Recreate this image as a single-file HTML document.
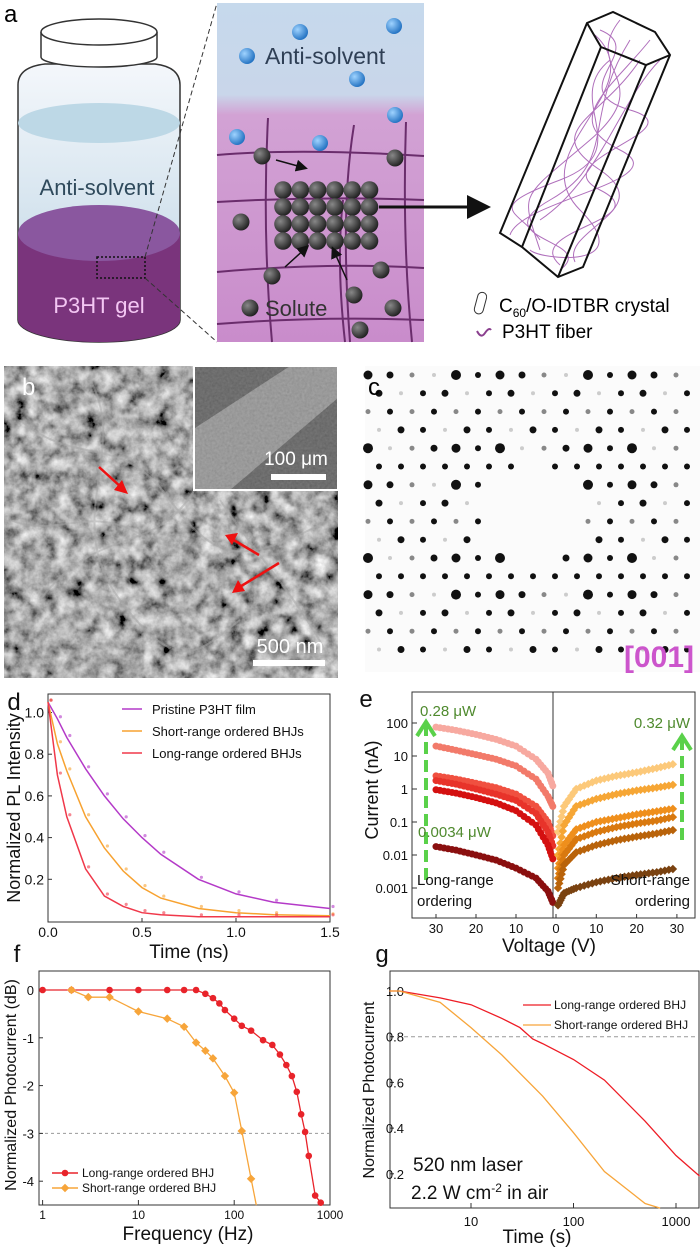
<!DOCTYPE html>
<html><head><meta charset="utf-8"><style>
body{margin:0;background:#fff;width:700px;height:1248px;overflow:hidden;font-family:"Liberation Sans",sans-serif}
svg{position:absolute;left:0;top:0}
</style></head><body>
<svg id="s" width="700" height="1248" viewBox="0 0 700 1248" font-family="Liberation Sans, sans-serif">
<defs>
<linearGradient id="jar" x1="0" y1="0" x2="0" y2="1"><stop offset="0" stop-color="#f4f7fb"/><stop offset="0.4" stop-color="#dde9f2"/><stop offset="1" stop-color="#bcd3e2"/></linearGradient>
<linearGradient id="mid" x1="0" y1="0" x2="0" y2="1"><stop offset="0" stop-color="#c6d9ec"/><stop offset="0.27" stop-color="#c9d6ea"/><stop offset="0.33" stop-color="#d2a2d4"/><stop offset="1" stop-color="#c98ccb"/></linearGradient>
<radialGradient id="ball" cx="0.35" cy="0.35" r="0.7"><stop offset="0" stop-color="#888"/><stop offset="1" stop-color="#1e1e1e"/></radialGradient>
<radialGradient id="bball" cx="0.35" cy="0.35" r="0.7"><stop offset="0" stop-color="#9fd3ff"/><stop offset="1" stop-color="#1f6fc0"/></radialGradient>
<filter id="sem" filterUnits="userSpaceOnUse" x="4" y="366" width="334" height="312"><feTurbulence type="fractalNoise" baseFrequency="0.07" numOctaves="4" seed="7"/><feColorMatrix type="matrix" values="0.9 0.9 0 0 -0.5 0.9 0.9 0 0 -0.5 0.9 0.9 0 0 -0.5 0 0 0 0 1"/></filter>
<filter id="sem2" filterUnits="userSpaceOnUse" x="195" y="366" width="143" height="124"><feTurbulence type="fractalNoise" baseFrequency="0.4" numOctaves="2" seed="5"/><feColorMatrix type="matrix" values="0.3 0.3 0 0 0.2 0.3 0.3 0 0 0.2 0.3 0.3 0 0 0.2 0 0 0 0 1"/></filter>
<marker id="ah" markerWidth="8" markerHeight="8" refX="6" refY="4" orient="auto"><path d="M0,0 L8,4 L0,8z" fill="#111"/></marker>
</defs>

<!-- Panel a -->
<g>
<text x="4" y="22" font-size="24">a</text>
<path d="M18,320 L18,85 Q18,67 45,64 L155,64 Q180,67 180,85 L180,320 A81,22 0 0 1 18,320 Z" fill="url(#jar)" stroke="#333" stroke-width="1.5"/>
<ellipse cx="99" cy="123" rx="81" ry="20" fill="#bdd8e6"/>
<path d="M18,233 L18,320 A81,22 0 0 0 180,320 L180,233 Z" fill="#7a347c"/>
<ellipse cx="99" cy="233" rx="81" ry="28" fill="#8a579f"/>
<path d="M41,32 L41,57 A58,10 0 0 0 157,57 L157,32" fill="#fff" stroke="#333" stroke-width="1.5"/>
<ellipse cx="99" cy="32" rx="58" ry="13" fill="#fff" stroke="#333" stroke-width="1.5"/>
<text x="97" y="195" font-size="22" fill="#2f4a5c" text-anchor="middle">Anti-solvent</text>
<text x="99" y="313" font-size="22" fill="#f3c6f3" text-anchor="middle">P3HT gel</text>
<rect x="97" y="257" width="48" height="21" fill="none" stroke="#111" stroke-width="1.5" stroke-dasharray="2,2"/>
<line x1="145" y1="257" x2="217" y2="3" stroke="#333" stroke-dasharray="5,3"/>
<line x1="145" y1="278" x2="217" y2="342" stroke="#333" stroke-dasharray="5,3"/>
<rect x="217" y="3" width="207" height="339" fill="url(#mid)"/>
<text x="265" y="64" font-size="23" fill="#2f3f55">Anti-solvent</text>
<g stroke="#6a2d6c" stroke-width="2" fill="none">
<path d="M217,155 Q300,148 424,156"/><path d="M217,202 Q320,196 424,200"/><path d="M217,272 Q330,262 424,268"/><path d="M217,324 Q320,316 424,320"/>
<path d="M268,118 Q262,230 272,342"/><path d="M354,125 Q340,210 350,342"/><path d="M343,200 Q336,260 345,342"/><path d="M406,122 Q402,240 412,342"/>
</g>
<g id="balls"></g>
<text x="265" y="316" font-size="22" fill="#333">Solute</text>
<line x1="276" y1="160" x2="305" y2="168" stroke="#111" stroke-width="1.5" marker-end="url(#ah)"/>
<line x1="285" y1="267" x2="307" y2="247" stroke="#111" stroke-width="1.5" marker-end="url(#ah)"/>
<line x1="347" y1="280" x2="333" y2="249" stroke="#111" stroke-width="1.5" marker-end="url(#ah)"/>
<line x1="379" y1="207" x2="485" y2="207" stroke="#111" stroke-width="3" marker-end="url(#ah)"/>
<g>
<g stroke="#a256b0" stroke-width="1" fill="none" opacity="0.85">
<path d="M600,30 C650,50 560,90 630,110 S540,160 600,190 S520,230 560,265"/><path d="M620,20 C580,70 660,80 590,140 S520,190 540,250"/><path d="M650,40 C610,90 560,120 620,150 S520,200 510,235"/><path d="M595,35 C655,90 520,150 580,210 S540,260 530,250"/><path d="M640,60 C600,120 540,130 600,170 S560,230 575,262"/><path d="M610,60 C560,100 640,150 560,180 S520,210 540,240"/><path d="M630,40 C580,120 620,160 550,200 S600,240 560,270"/><path d="M660,60 C620,100 600,180 540,220"/></g>
<g stroke="#111" stroke-width="2" fill="none">
<polygon points="587,23 613,12 655,32 670,55 583,267 558,277 522,247 500,233"/>
<polyline points="587,23 601,47 646,65 670,55"/><line x1="601" y1="47" x2="522" y2="247"/><line x1="646" y1="65" x2="558" y2="277"/>
</g></g>
<rect x="476" y="292" width="9" height="22" rx="4.5" fill="#fff" stroke="#333" transform="rotate(15 480 303)"/>
<text x="499" y="312" font-size="19">C<tspan font-size="12" dy="5">60</tspan><tspan dy="-5">/O-IDTBR crystal</tspan></text>
<path d="M477,331 q4,8 8,2 t6,-3" stroke="#8a3f8e" stroke-width="2" fill="none"/>
<text x="502" y="338" font-size="19">P3HT fiber</text>
</g>

<!-- Panel b -->
<g>
<rect x="4" y="366" width="334" height="312" fill="#555"/>
<rect x="4" y="366" width="334" height="312" filter="url(#sem)"/>
<g stroke="#a8a8a8" stroke-width="2" fill="none" opacity="0.5">
<path d="M20,420 C80,470 120,430 170,500 S250,560 330,520"/><path d="M40,600 C100,520 160,560 200,480"/><path d="M90,380 C130,450 60,520 120,600 S200,650 240,620"/><path d="M220,500 C260,560 300,600 330,660"/><path d="M10,520 C60,540 90,500 150,540"/>
</g>
<rect x="195" y="366" width="143" height="124" fill="#444"/>
<polygon points="195,428 290,366 338,366 338,398 230,490 195,490" fill="#888"/>
<rect x="195" y="366" width="143" height="124" filter="url(#sem2)" opacity="0.35"/>
<rect x="194" y="366" width="144" height="124" fill="none" stroke="#fff" stroke-width="2"/>
<text x="22" y="395" font-size="24" fill="#fff">b</text>
<text x="296" y="465" font-size="19" fill="#fff" text-anchor="middle">100 μm</text>
<rect x="271" y="474" width="55" height="6" fill="#fff"/>
<text x="290" y="653" font-size="20" fill="#fff" text-anchor="middle">500 nm</text>
<rect x="253" y="660" width="72" height="6" fill="#fff"/>
<g stroke="#e11" stroke-width="2.5"><line x1="99" y1="467" x2="122" y2="488"/><line x1="259" y1="555" x2="232" y2="539"/><line x1="279" y1="563" x2="238" y2="588"/></g>
<polygon points="128,494 114,490 122,480" fill="#e11"/><polygon points="225,535 238,533 232,545" fill="#e11"/><polygon points="232,593 238,580 245,591" fill="#e11"/>
</g>

<!-- Panel c -->
<g>
<rect x="365" y="366" width="335" height="306" fill="#fbfbfb"/>
<g id="spots"></g>
<text x="368" y="395" font-size="24">c</text>
<text x="694" y="667" font-size="30" font-weight="bold" fill="#cc55cc" text-anchor="end">[001]</text>
</g>

<g id="charts"></g>
</svg>
<script>
// ---- panel d data ----
const dTimes=[0,0.05,0.1,0.2,0.3,0.4,0.5,0.6,0.8,1.0,1.2,1.5];
const dPristine=[1.05,0.97,0.88,0.73,0.6,0.49,0.4,0.32,0.2,0.13,0.09,0.06];
const dShort=[1.05,0.85,0.72,0.5,0.35,0.24,0.16,0.11,0.06,0.04,0.03,0.025];
const dLong=[1.05,0.7,0.5,0.25,0.12,0.07,0.04,0.03,0.02,0.02,0.02,0.02];
const dYTicks=[0.2,0.4,0.6,0.8,1.0];
const dXTicks=[0,0.5,1.0,1.5];
// ---- panel e data ----
const eVLeft=[30,25,20,15,10,5,2,0.5];
const eLeft=[[75,60,45,32,20,8,3,1],[20,15,11,8,5,2,0.6,0.25],[2.5,2,1.5,1.1,0.7,0.3,0.1,0.03],[1.8,1.4,1.0,0.7,0.45,0.18,0.05,0.015],[0.95,0.75,0.55,0.38,0.22,0.08,0.02,0.006],[0.018,0.014,0.01,0.007,0.004,0.002,0.0008,0.0003]];
const eVRight=[0.5,2,5,10,15,20,25,30];
const eRight=[[0.05,0.3,1,1.8,2.5,3.2,4.3,6],[0.01,0.08,0.3,0.5,0.7,0.9,1.1,1.4],[0.004,0.02,0.06,0.1,0.13,0.17,0.21,0.26],[0.002,0.01,0.03,0.05,0.07,0.09,0.11,0.15],[0.001,0.005,0.012,0.02,0.028,0.036,0.045,0.06],[0.0003,0.0007,0.001,0.0015,0.002,0.0025,0.003,0.004]];
const eYTicks=[0.001,0.01,0.1,1,10,100];
const eYLabels=["0.001","0.01","0.1","1","10","100"];
const eXTicks=[30,20,10,0,10,20,30];
// ---- panel f data ----
const fFreqLong=[1,2,5,10,20,30,40,50,60,70,80,100,120,150,200,250,300,350,400,450,500,550,600,700,800];
const fLong=[0,0,0,0,0,0,0,-0.08,-0.17,-0.28,-0.42,-0.6,-0.75,-0.85,-1.05,-1.15,-1.35,-1.57,-1.8,-2.13,-2.6,-2.97,-3.47,-4.3,-4.45];
const fFreqShort=[2,3,5,10,20,30,40,50,60,80,100,120,150,170];
const fShort=[0,-0.15,-0.15,-0.45,-0.6,-0.77,-1.1,-1.27,-1.43,-1.8,-2.15,-2.95,-3.95,-4.6];
const fYTicks=[0,-1,-2,-3,-4];
const fXTicks=[1,10,100,1000];
// ---- panel g data ----
const gTLong=[1.6,2,5,10,20,30,40,50,100,200,500,1000,1700];
const gLong=[1.0,1.0,0.97,0.94,0.88,0.84,0.79,0.77,0.7,0.61,0.43,0.28,0.19];
const gTShort=[1.6,2,5,10,20,50,100,200,500,700];
const gShort=[1.0,1.0,0.95,0.84,0.72,0.54,0.38,0.21,0.07,0.05];
const gYTicks=[0.2,0.4,0.6,0.8,1.0];
const gXTicks=[10,100,1000];

const NS="http://www.w3.org/2000/svg";
const root=document.getElementById('charts');
function mk(tag,attrs,parent){const e=document.createElementNS(NS,tag);for(const k in attrs)e.setAttribute(k,attrs[k]);(parent||root).appendChild(e);return e;}
function txt(x,y,s,size,anchor,parent,fill){const t=mk('text',{x:x,y:y,'font-size':size,'text-anchor':anchor||'middle',fill:fill||'#111'},parent);t.textContent=s;return t;}
function pathOf(xs,ys,fx,fy){return xs.map((x,i)=>(i?'L':'M')+fx(x).toFixed(1)+','+fy(ys[i]).toFixed(1)).join('');}
const lg=Math.log10;

// balls in panel a
const balls=document.getElementById('balls');
for(let r=0;r<4;r++)for(let c=0;c<6;c++){const b=mk('circle',{cx:283+c*17.3,cy:190+r*17,r:8.8,fill:'url(#ball)'},balls);}
[[262,156],[395,158],[241,222],[272,276],[381,270],[354,295],[250,308],[393,308],[360,330]].forEach(p=>{const b=mk('circle',{cx:p[0],cy:p[1],r:8.5,fill:'url(#ball)'},balls);});
[[300,32],[394,26],[247,56],[357,79],[395,115],[237,137],[320,143]].forEach(p=>{const b=mk('circle',{cx:p[0],cy:p[1],r:8,fill:'url(#bball)'},balls);});

// diffraction spots
const spots=document.getElementById('spots');
for(let r=0;r<16;r++)for(let c=0;c<16;c++){
  const x=368+c*22+(r%2)*11, y=375+r*18.3;
  if(x>696||y>665)continue;
  const dx=(x-534)/52,dy=(y-517)/52; if(dx*dx+dy*dy<1)continue;
  const k=(r*7+c*13+r*c)%6; const rad=[4.5,3.5,2.5,2,5,3][k]; const col=k==3?'#ccc':(k==2?'#888':'#111');
  const s=mk('circle',{cx:x,cy:y,r:rad,fill:col},spots);
  
  
}

// ---- Panel d ----
(function(){
const g=mk('g',{});
const x0=48,x1=330,yT=694,yB=922;
const fx=t=>x0+t/1.5*(x1-x0), fy=v=>921-v*208.5;
mk('rect',{x:x0,y:yT,width:x1-x0,height:yB-yT,fill:'none',stroke:'#333'},g);
txt(14,710,'d',24,'middle',g);
dYTicks.forEach(v=>{mk('line',{x1:x0,x2:x0+4,y1:fy(v),y2:fy(v),stroke:'#333'},g);txt(x0-4,fy(v)+5,v.toFixed(1),14,'end',g);});
dXTicks.forEach(v=>{mk('line',{x1:fx(v),x2:fx(v),y1:yB,y2:yB-4,stroke:'#333'},g);txt(fx(v),937,v.toFixed(1),14,'middle',g);});
const yl=txt(0,0,'Normalized PL Intensity',18,'middle',g);yl.setAttribute('transform','translate(20,808) rotate(-90)');
const xl=txt(189,958,'Time (ns)',19,'middle',g);
[[dPristine,'#b43ac8','Pristine P3HT film'],[dShort,'#f7a230','Short-range ordered BHJs'],[dLong,'#f0384a','Long-range ordered BHJs']].forEach((s,i)=>{
  const p=mk('path',{d:pathOf(dTimes,s[0],fx,fy),fill:'none',stroke:s[1],'stroke-width':1.5},g);
  
  s[0].forEach((v,j)=>{const c=mk('circle',{cx:fx(dTimes[j])+3,cy:fy(v)-2,r:1.6,fill:s[1],opacity:0.6},g);});
  const ly=709+i*22;mk('line',{x1:122,x2:142,y1:ly,y2:ly,stroke:s[1],'stroke-width':1.5},g);
  const lt=txt(152,ly+5,s[2],13,'start',g);
});
})();

// ---- Panel e ----
(function(){
const g=mk('g',{});
const x0=412,x1=695,yT=692,yB=918;
const fy=v=>789-lg(v)*33;
const fxl=v=>556-v*4, fxr=v=>556+v*4.03;
mk('rect',{x:x0,y:yT,width:x1-x0,height:yB-yT,fill:'none',stroke:'#333'},g);
mk('line',{x1:553,x2:553,y1:yT,y2:yB,stroke:'#333'},g);
txt(366,707,'e',24,'middle',g);
eYTicks.forEach((v,i)=>{mk('line',{x1:x0,x2:x0+5,y1:fy(v),y2:fy(v),stroke:'#333'},g);txt(x0-4,fy(v)+5,eYLabels[i],13,'end',g);});
eXTicks.forEach((v,i)=>{const x=i<3?fxl(v):(i==3?556:fxr(v));mk('line',{x1:x,x2:x,y1:yB,y2:yB-4,stroke:'#333'},g);txt(x,933,String(v),13,'middle',g);});
const yl=txt(0,0,'Current (nA)',18,'middle',g);yl.setAttribute('transform','translate(378,790) rotate(-90)');
txt(549,952,'Voltage (V)',19,'middle',g);
const lc=['#f7a9a0','#f27a6a','#f05040','#e8332a','#d41010','#8a0f0f'];
const rc=['#fcc97a','#f6a635','#ef8f1c','#d9790f','#b9630a','#7a4210'];
function dots(vs,vals,fx,col,shape,name){
  for(let i=0;i<vs.length-1;i++){for(let t=0;t<1;t+=0.2){
    const v=vs[i]+(vs[i+1]-vs[i])*t; const lv=lg(vals[i])+(lg(vals[i+1])-lg(vals[i]))*t;
    const x=fx(v), y=fy(Math.pow(10,lv));
    const m=shape?mk('rect',{x:x-3,y:y-3,width:6,height:6,fill:col,transform:'rotate(45 '+x+' '+y+')'},g):mk('circle',{cx:x,cy:y,r:3.5,fill:col},g);
    
    
  }}
}
eLeft.forEach((s,i)=>dots(eVLeft,s,fxl,lc[i],0,'e-long-range-point'));
eRight.forEach((s,i)=>dots(eVRight,s,fxr,rc[i],1,'e-short-range-point'));
mk('line',{x1:426,x2:426,y1:880,y2:725,stroke:'#5ad14a','stroke-width':4,'stroke-dasharray':'12,6'},g);
mk('path',{d:'M417,736 L426,722 L435,736',stroke:'#5ad14a','stroke-width':4,fill:'none'},g);
mk('line',{x1:682,x2:682,y1:840,y2:740,stroke:'#5ad14a','stroke-width':4,'stroke-dasharray':'12,6'},g);
mk('path',{d:'M673,750 L682,736 L691,750',stroke:'#5ad14a','stroke-width':4,fill:'none'},g);
txt(420,716,'0.28 μW',15,'start',g,'#4f8a2e');
txt(690,728,'0.32 μW',15,'end',g,'#4f8a2e');
txt(418,837,'0.0034 μW',15,'start',g,'#4f8a2e');
txt(417,885,'Long-range',15,'start',g);txt(417,906,'ordering',15,'start',g);
txt(690,885,'Short-range',15,'end',g);txt(690,906,'ordering',15,'end',g);
})();

// ---- Panel f ----
(function(){
const g=mk('g',{});
const x0=39,x1=330,yT=971,yB=1205;
const fx=v=>42.6+lg(v)*95.8, fy=v=>990-v*47.8;
mk('rect',{x:x0,y:yT,width:x1-x0,height:yB-yT,fill:'none',stroke:'#333'},g);
txt(17,962,'f',24,'middle',g);
mk('line',{x1:x0,x2:x1,y1:fy(-3),y2:fy(-3),stroke:'#999','stroke-dasharray':'3,3'},g);
fYTicks.forEach(v=>{mk('line',{x1:x0,x2:x0+4,y1:fy(v),y2:fy(v),stroke:'#333'},g);txt(x0-5,fy(v)+5,String(v),13,'end',g);});
fXTicks.forEach(v=>{mk('line',{x1:fx(v),x2:fx(v),y1:yB,y2:yB-5,stroke:'#333'},g);txt(fx(v),1219,String(v),12,'middle',g);});
txt(188,1240,'Frequency (Hz)',19,'middle',g);
const yl=txt(0,0,'Normalized Photocurrent (dB)',16,'middle',g);yl.setAttribute('transform','translate(16,1085) rotate(-90)');
const mr=mk('path',{d:pathOf(fFreqLong,fLong,fx,fy),fill:'none',stroke:'#e8232a','stroke-width':1.3},g);
fFreqLong.forEach((f,i)=>{const c=mk('circle',{cx:fx(f),cy:fy(fLong[i]),r:3.3,fill:'#e8232a'},g);});
const ys=fShort.map(v=>Math.max(v,-4.5));
const ms=mk('path',{d:pathOf(fFreqShort,ys,fx,fy),fill:'none',stroke:'#f7a53a','stroke-width':1.3},g);
fFreqShort.forEach((f,i)=>{if(fShort[i]<-4.5)return;const x=fx(f),y=fy(fShort[i]);const c=mk('rect',{x:x-3,y:y-3,width:6,height:6,fill:'#f7a53a',transform:'rotate(45 '+x+' '+y+')'},g);});
mk('line',{x1:52,x2:78,y1:1173,y2:1173,stroke:'#e8232a','stroke-width':1.5},g);mk('circle',{cx:65,cy:1173,r:3.3,fill:'#e8232a'},g);
txt(82,1177,'Long-range ordered BHJ',12,'start',g);
mk('line',{x1:52,x2:78,y1:1188,y2:1188,stroke:'#f7a53a','stroke-width':1.5},g);mk('rect',{x:62,y:1185,width:6,height:6,fill:'#f7a53a',transform:'rotate(45 65 1188)'},g);
txt(82,1192,'Short-range ordered BHJ',12,'start',g);
})();

// ---- Panel g ----
(function(){
const g=mk('g',{});
const x0=390,x1=699,yT=971,yB=1208;
const fx=v=>471+(lg(v)-1)*102.5;
const fy2=v=>991+(1-v)*228.5;
mk('rect',{x:x0,y:yT,width:x1-x0,height:yB-yT,fill:'none',stroke:'#333'},g);
txt(382,962,'g',24,'middle',g);
mk('line',{x1:x0,x2:x1,y1:fy2(0.8),y2:fy2(0.8),stroke:'#999','stroke-dasharray':'4,3'},g);
gYTicks.forEach(v=>{mk('line',{x1:x0,x2:x0+4,y1:fy2(v),y2:fy2(v),stroke:'#333'},g);txt(x0+14,fy2(v)+5,v.toFixed(1),13,'end',g);});
gXTicks.forEach(v=>{mk('line',{x1:fx(v),x2:fx(v),y1:yB,y2:yB-5,stroke:'#333'},g);txt(fx(v),1226,String(v),13,'middle',g);});
txt(537,1243,'Time (s)',19,'middle',g);
const yl=txt(0,0,'Normalized Photocurrent',16,'middle',g);yl.setAttribute('transform','translate(374,1090) rotate(-90)');
const l1=mk('path',{d:pathOf(gTLong,gLong,fx,fy2),fill:'none',stroke:'#ee1c25','stroke-width':1.3},g);
const l2=mk('path',{d:pathOf(gTShort,gShort,fx,fy2),fill:'none',stroke:'#f7a53a','stroke-width':1.3},g);
mk('line',{x1:523,x2:551,y1:1005,y2:1005,stroke:'#ee1c25','stroke-width':1.3},g);txt(554,1009,'Long-range ordered BHJ',12,'start',g);
mk('line',{x1:523,x2:551,y1:1025,y2:1025,stroke:'#f7a53a','stroke-width':1.3},g);txt(554,1029,'Short-range ordered BHJ',12,'start',g);
txt(413,1171,'520 nm laser',19,'start',g);
const t=txt(411,1199,'2.2 W cm',19,'start',g);const sp=mk('tspan',{dy:-7,'font-size':12},t);sp.textContent='-2';const sp2=mk('tspan',{dy:7},t);sp2.textContent=' in air';
})();
</script>
</body></html>
